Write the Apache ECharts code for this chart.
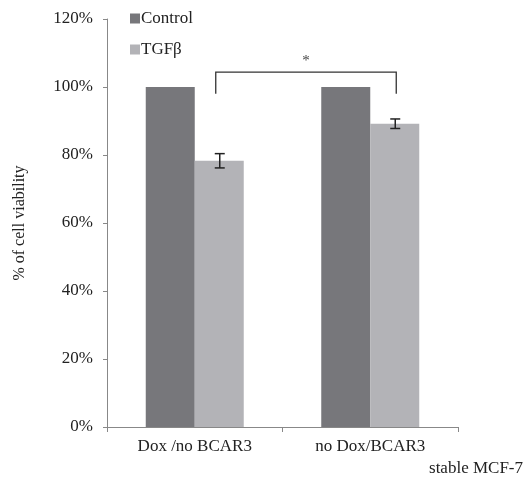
<!DOCTYPE html>
<html><head><meta charset="utf-8">
<script src="https://cdn.jsdelivr.net/npm/echarts@6/dist/echarts.min.js"></script>
<style>html,body{margin:0;padding:0;background:#fff}#c{width:525px;height:483px}</style>
</head><body><div id="c"></div>
<script>
const categories = ['Dox /no BCAR3', 'no Dox/BCAR3'];
const controlValues = [100, 100];
const tgfValues = [78.3, 89.2];
const tgfErrors = [2.1, 1.4];
const yTicks = [0, 20, 40, 60, 80, 100, 120];
const bracket = { from: 0, to: 1, top: 104.4, bottom: 98, label: '*' };

const font = 'Liberation Serif, Times New Roman, serif';
const dark = '#77777b';
const light = '#b3b3b7';

const chart = echarts.init(document.getElementById('c'));
chart.setOption({
  animation: false,
  textStyle: { fontFamily: font },
  grid: { left: 107, right: 67, top: 19, bottom: 56 },
  legend: {
    orient: 'vertical', left: 125, top: 5, itemGap: 14,
    itemWidth: 10, itemHeight: 10, icon: 'rect',
    textStyle: { fontFamily: font, fontSize: 17, color: '#222', padding: [0, 0, 0, -4] },
    data: ['Control', 'TGFβ']
  },
  xAxis: {
    type: 'category', data: categories,
    axisLine: { lineStyle: { color: '#888', width: 1 } },
    axisTick: { show: true, length: 5, lineStyle: { color: '#888' } },
    axisLabel: { fontFamily: font, fontSize: 17, color: '#222', margin: 11 }
  },
  yAxis: {
    type: 'value', min: 0, max: 120, interval: 20,
    name: '% of cell viability', nameLocation: 'middle', nameGap: 79, nameRotate: 90,
    nameTextStyle: { fontFamily: font, fontSize: 16, color: '#222' },
    axisLine: { show: true, lineStyle: { color: '#888' } },
    axisTick: { show: true, length: 4, lineStyle: { color: '#888' } },
    splitLine: { show: false },
    axisLabel: { fontFamily: font, fontSize: 17, color: '#222', margin: 14,
      formatter: v => yTicks.includes(v) ? v + '%' : '' }
  },
  series: [
    { name: 'Control', type: 'bar', data: controlValues, barWidth: 49, barGap: '0%',
      itemStyle: { color: dark } },
    { name: 'TGFβ', type: 'bar', data: tgfValues, barWidth: 49,
      itemStyle: { color: light } },
    { type: 'custom', name: 'err', silent: true, z: 10,
      data: tgfValues.map((v, i) => [i, v, tgfErrors[i]]),
      renderItem: (params, api) => {
        const i = api.value(0), v = api.value(1), e = api.value(2);
        const off = 25;
        const hi = api.coord([i, v + e]); const lo = api.coord([i, v - e]);
        const x = hi[0] + off;
        const s = { stroke: '#222', lineWidth: 1.5 };
        return { type: 'group', children: [
          { type: 'line', shape: { x1: x, y1: hi[1], x2: x, y2: lo[1] }, style: s },
          { type: 'line', shape: { x1: x - 5, y1: hi[1], x2: x + 5, y2: hi[1] }, style: s },
          { type: 'line', shape: { x1: x - 5, y1: lo[1], x2: x + 5, y2: lo[1] }, style: s }
        ]};
      }
    },
    { type: 'custom', name: 'bracket', silent: true, z: 10,
      data: [[bracket.from, bracket.to, bracket.top, bracket.bottom]],
      renderItem: (params, api) => {
        const a = api.coord([api.value(0), api.value(2)]);
        const b = api.coord([api.value(1), api.value(2)]);
        const yb = api.coord([0, api.value(3)])[1];
        const x1 = a[0] + 21, x2 = b[0] + 26;
        const s = { stroke: '#333', lineWidth: 1.3, fill: null };
        return { type: 'group', children: [
          { type: 'polyline', shape: { points: [[x1, yb], [x1, a[1]], [x2, a[1]], [x2, yb]] }, style: s },
          { type: 'text', style: { text: bracket.label, x: (x1 + x2) / 2, y: a[1] - 3,
            align: 'center', verticalAlign: 'bottom', font: '15px ' + font, fill: '#444' } }
        ]};
      }
    }
  ],
  graphic: [{ type: 'text', right: 2, top: 460,
    style: { text: 'stable MCF-7', font: '17px ' + font, fill: '#222' } }]
});
</script></body></html>
